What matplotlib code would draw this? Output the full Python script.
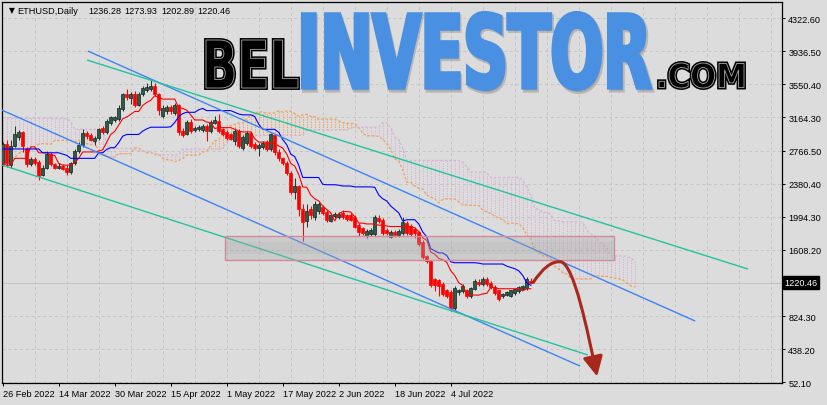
import numpy as np
import pandas as pd
import matplotlib
matplotlib.use("Agg")
import matplotlib.pyplot as plt
import matplotlib.transforms as mtransforms
from matplotlib.patches import Rectangle, PathPatch, FancyArrowPatch
from matplotlib.path import Path
from matplotlib.textpath import TextPath
from matplotlib.font_manager import FontProperties
from matplotlib.transforms import Affine2D

# --- ETHUSD daily candles, bar 0 = 26 Feb 2022 ---
opens = [2620, 2850, 2600, 2830, 2930, 2990, 2790, 2610, 2670, 2640,
         2490, 2570, 2730, 2610, 2570, 2590, 2570, 2520, 2620, 2770,
         2840, 2980, 2950, 2880, 2920, 3030, 2990, 3100, 3130, 3140,
         3260, 3430, 3390, 3440, 3300, 3440, 3480, 3490, 3530, 3430,
         3180, 3240, 3280, 3210, 3300, 3000, 2970, 3110, 3010, 3020,
         3010, 3060, 3000, 3100, 3120, 3020, 2990, 2960, 2880, 3000,
         2800, 2860, 2980, 2850, 2800, 2810, 2870, 2790, 2950, 2760,
         2680, 2630, 2510, 2290, 2350, 2080, 1940, 2080, 1990, 2060,
         2110, 2050, 1950, 2000, 1990, 2040, 2010, 2020, 1990, 1900,
         1860, 1770, 1790, 1790, 1980, 1960, 1840, 1760, 1820, 1780,
         1800, 1920, 1890, 1850, 1810, 1700, 1530, 1470, 1260, 1250,
         1200, 1130, 1110, 920, 1110, 1120, 1130, 1060, 1150, 1230,
         1200, 1270, 1220, 1170, 1130, 1060, 1080, 1070, 1100, 1120,
         1150, 1160, 1236.28]
highs = [2870, 2900, 2900, 3060, 3010, 3000, 2810, 2700, 2690, 2660,
         2600, 2770, 2750, 2630, 2620, 2610, 2600, 2640, 2790, 2870,
         3020, 3000, 2980, 2940, 3040, 3060, 3140, 3180, 3180, 3300,
         3450, 3490, 3460, 3470, 3460, 3530, 3560, 3600, 3560, 3450,
         3300, 3300, 3300, 3330, 3320, 3040, 3130, 3140, 3060, 3070,
         3080, 3080, 3130, 3180, 3200, 3040, 3010, 2980, 3030, 3020,
         2950, 3000, 3000, 2870, 2860, 2880, 2890, 2980, 2970, 2790,
         2700, 2650, 2530, 2450, 2370, 2140, 2140, 2120, 2180, 2170,
         2130, 2070, 2040, 2050, 2050, 2070, 2030, 2040, 2010, 1920,
         1880, 1850, 1860, 2020, 2010, 1980, 1860, 1840, 1840, 1850,
         1990, 1940, 1910, 1880, 1830, 1720, 1550, 1490, 1280, 1270,
         1230, 1150, 1130, 1180, 1150, 1200, 1150, 1170, 1260, 1260,
         1290, 1290, 1240, 1190, 1140, 1100, 1120, 1140, 1160, 1180,
         1190, 1290, 1273.93]
lows = [2590, 2580, 2570, 2810, 2900, 2750, 2580, 2590, 2600, 2430,
        2470, 2550, 2590, 2550, 2550, 2540, 2490, 2500, 2600, 2740,
        2810, 2910, 2880, 2840, 2900, 2970, 2970, 3070, 3110, 3120,
        3230, 3370, 3320, 3280, 3290, 3410, 3460, 3470, 3410, 3190,
        3150, 3200, 3200, 3190, 2950, 2930, 2950, 2980, 2990, 3000,
        2990, 2880, 2980, 3080, 2980, 2940, 2900, 2890, 2840, 2800,
        2780, 2840, 2800, 2780, 2710, 2790, 2770, 2770, 2720, 2650,
        2600, 2480, 2260, 2200, 2000, 1710, 1880, 1970, 1960, 2030,
        2020, 1930, 1930, 1980, 1970, 1970, 1950, 1940, 1860, 1770,
        1780, 1750, 1770, 1770, 1920, 1780, 1780, 1740, 1760, 1760,
        1780, 1780, 1770, 1740, 1650, 1500, 1450, 1170, 1120, 1070,
        1070, 1040, 890, 900, 1080, 1100, 1040, 1040, 1130, 1180,
        1180, 1180, 1150, 1080, 1010, 1040, 1060, 1050, 1080, 1100,
        1130, 1140, 1202.89]
closes = [2850, 2620, 2830, 2960, 2990, 2820, 2610, 2670, 2620, 2470,
          2570, 2730, 2610, 2570, 2590, 2560, 2520, 2620, 2770, 2840,
          2980, 2940, 2900, 2920, 3020, 2990, 3120, 3160, 3160, 3270,
          3430, 3400, 3440, 3300, 3440, 3500, 3520, 3530, 3430, 3250,
          3270, 3280, 3230, 3310, 2990, 2950, 3110, 3000, 3040, 3050,
          3060, 3000, 3110, 3130, 3000, 2960, 2920, 2910, 3000, 2820,
          2930, 2980, 2820, 2800, 2840, 2860, 2790, 2960, 2750, 2680,
          2630, 2510, 2290, 2350, 2080, 1930, 2060, 2020, 2150, 2140,
          2040, 1960, 2020, 2030, 2030, 1990, 1970, 1960, 1880, 1820,
          1800, 1830, 1840, 1990, 1940, 1800, 1800, 1820, 1780, 1830,
          1930, 1800, 1790, 1800, 1670, 1520, 1470, 1190, 1190, 1180,
          1090, 1060, 920, 1160, 1130, 1180, 1060, 1160, 1240, 1200,
          1270, 1200, 1170, 1100, 1030, 1090, 1110, 1130, 1150, 1170,
          1180, 1260, 1220.46]

# earlier daily highs / lows (11 Dec 2021 - 25 Feb 2022), only used to warm up Ichimoku
hist_highs = [4100, 4150, 4120, 3900, 4100, 4100, 4000, 4000, 4000, 3950,
              4050, 4060, 4140, 4120, 4130, 4090, 4130, 4060, 3830, 3770,
              3800, 3770, 3850, 3850, 3880, 3850, 3560, 3420, 3240, 3210,
              3160, 3260, 3410, 3430, 3330, 3370, 3370, 3360, 3220, 3210,
              3270, 3010, 2640, 2560, 2500, 2520, 2720, 2540, 2560, 2620,
              2640, 2710, 2810, 2790, 2710, 3000, 3060, 3070, 3190, 3190,
              3260, 3280, 3130, 2970, 2950, 2960, 3190, 3160, 3130, 2940,
              2800, 2790, 2770, 2650, 2740, 2720, 2800]
hist_lows = [3900, 4000, 3700, 3700, 3650, 3950, 3830, 3850, 3900, 3800,
             3900, 3950, 3950, 4000, 4000, 4000, 4000, 3770, 3600, 3600,
             3620, 3680, 3720, 3710, 3730, 3400, 3330, 3060, 3000, 3060,
             2930, 3050, 3220, 3230, 3200, 3280, 3290, 3160, 3080, 3040,
             2990, 2530, 2330, 2380, 2160, 2370, 2410, 2360, 2380, 2540,
             2520, 2480, 2680, 2640, 2600, 2660, 2990, 2970, 3040, 3020,
             3090, 3050, 2880, 2840, 2850, 2850, 2930, 3070, 2850, 2770,
             2740, 2580, 2580, 2510, 2580, 2300, 2570]

date_labels = ["26 Feb 2022", "14 Mar 2022", "30 Mar 2022", "15 Apr 2022", "1 May 2022",
               "17 May 2022", "2 Jun 2022", "18 Jun 2022", "4 Jul 2022"]
price_ticks = [4322.60, 3936.50, 3550.40, 3164.30, 2766.50, 2380.40, 1994.30,
               1608.20, 1220.46, 824.30, 438.20, 52.10]
last_price = 1220.46

# hand-drawn objects (bar index, price)
upper_blue = ([21.3, 173.1], [3939, 771])
upper_green = ([21.1, 186.3], [3833, 1381])
lower_blue = ([-0.5, 144.3], [3252, 243])
lower_green = ([-0.5, 146.3], [2606, 372])
zone_bars = (55.6, 152.8)
zone_prices = (1483, 1765)
arrow_bars = [132.6, 136.1, 139.3, 142.8, 146.3, 148.6]
arrow_prices = [1223, 1475, 1467, 1467, 619, 120]

W, H = 828, 406
BG = "#dcdcdc"
plt.rcParams["font.family"] = ["Liberation Sans", "DejaVu Sans"]
FS = 6.6

# --- Ichimoku (9, 26, 52) ---
hi = pd.Series(hist_highs + highs, dtype=float)
lo = pd.Series(hist_lows + lows, dtype=float)
tenkan = (hi.rolling(9).max() + lo.rolling(9).min()) / 2
kijun = (hi.rolling(26).max() + lo.rolling(26).min()) / 2
span_a = (tenkan + kijun) / 2
span_b = (hi.rolling(52).max() + lo.rolling(52).min()) / 2
n_hist = len(hist_highs)
bars = np.arange(len(closes))
cloud_x = np.arange(len(hi)) - n_hist + 26
keep = cloud_x >= -1
cloud_x = cloud_x[keep]
sa = span_a.values[keep]
sb = span_b.values[keep]

fig = plt.figure(figsize=(W / 100, H / 100), dpi=100, facecolor=BG)
ax = fig.add_axes([2.5 / W, 22 / H, 779.5 / W, 381.5 / H], facecolor=BG)
ax.set_xlim(-0.05, 194.8)
ax.set_ylim(44, 4520)

# grid
for p in price_ticks:
    ax.axhline(p, color="#c4c4c4", lw=0.7, ls=(0, (3, 3)), zorder=0)
for b in range(8, 195, 8):
    ax.axvline(b, color="#c4c4c4", lw=0.7, ls=(0, (3, 3)), zorder=0)
ax.axhline(last_price, color="#c0c0c0", lw=0.6, zorder=0)

# cloud hatching
up = sa >= sb
ax.vlines(cloud_x[up], sb[up], sa[up], color="#f2a05a", lw=0.75, ls=(0, (1.2, 1.2)), zorder=1)
ax.vlines(cloud_x[~up], sa[~up], sb[~up], color="#d6b4d6", lw=0.75, ls=(0, (1.2, 1.2)), zorder=1)
ax.plot(cloud_x, sa, color="#f2a05a", lw=0.9, ls=(0, (2, 1.5)), zorder=1)
ax.plot(cloud_x, sb, color="#d6b4d6", lw=0.9, ls=(0, (2, 1.5)), zorder=1)

# candles
o = np.array(opens); c = np.array(closes); h = np.array(highs); l = np.array(lows)
bull = c >= o
ax.vlines(bars[bull], l[bull], h[bull], color="#1f3b32", lw=0.75, zorder=3)
ax.vlines(bars[~bull], l[~bull], h[~bull], color="#ff0000", lw=0.75, zorder=3)
body = np.maximum(np.abs(c - o), 10)
ax.bar(bars[bull], body[bull], bottom=np.minimum(o, c)[bull], width=0.75,
       color="#2e5b4a", edgecolor="#12241d", lw=0.5, zorder=4)
ax.bar(bars[~bull], body[~bull], bottom=np.minimum(o, c)[~bull], width=0.75,
       color="#ff0000", edgecolor="#ff0000", lw=0.5, zorder=4)

# tenkan / kijun
ax.plot(bars, tenkan.values[n_hist:], color="#ff0000", lw=0.8, zorder=5)
ax.plot(bars, kijun.values[n_hist:], color="#0000ff", lw=0.8, zorder=5)

# channel lines
for (xs, ys), col in [(upper_blue, "#3d84f5"), (lower_blue, "#3d84f5"),
                      (upper_green, "#22c3a0"), (lower_green, "#22c3a0")]:
    ax.plot(xs, ys, color=col, lw=1.0, zorder=6, solid_capstyle="butt")

# support zone
zw = zone_bars[1] - zone_bars[0]
zh = zone_prices[1] - zone_prices[0]
ax.add_patch(Rectangle((zone_bars[0], zone_prices[0]), zw, zh,
                       facecolor=(0.66, 0.66, 0.66, 0.32), edgecolor="#d48a9a", lw=1.0, zorder=7))
ax.add_patch(Rectangle((zone_bars[0], zone_prices[0] + zh * 0.25), zw, zh * 0.5,
                       facecolor=(0.6, 0.6, 0.6, 0.1), edgecolor="none", zorder=7))

# forecast arrow
arrow_path = Path(list(zip(arrow_bars, arrow_prices)),
                  [Path.MOVETO, Path.CURVE3, Path.CURVE3, Path.CURVE4, Path.CURVE4, Path.CURVE4])
ax.add_patch(FancyArrowPatch(path=arrow_path, arrowstyle="-|>,head_length=0.8,head_width=0.4",
                             mutation_scale=15, color="#a8281c", lw=2.2, zorder=8))

# axes styling
for s in ax.spines.values():
    s.set_color("black")
    s.set_linewidth(0.9)
ax.yaxis.tick_right()
ax.set_yticks(price_ticks)
ax.set_yticklabels([f"{p:.2f}" if p != last_price else "" for p in price_ticks], fontsize=FS)
ax.tick_params(axis="y", length=2.5, width=0.7, pad=2, colors="black")
ax.set_xticks(range(0, 14 * len(date_labels), 14))
ax.set_xticklabels(date_labels, fontsize=FS, ha="left")
ax.tick_params(axis="x", length=2.5, width=0.7, pad=2)
trans = mtransforms.blended_transform_factory(ax.transAxes, ax.transData)
ax.text(1.003, last_price, f"{last_price:.2f}", transform=trans, fontsize=FS, color="white",
        va="center", ha="left",
        bbox=dict(boxstyle="square,pad=0.2", facecolor="black", edgecolor="black"))

# header
fig.text(9 / W, 1 - 11 / H, "▼", fontsize=5.5, va="center", family=["DejaVu Sans"])
fig.text(17 / W, 1 - 11 / H, "ETHUSD,Daily", fontsize=FS, va="center")
for xp, txt in zip([88, 124, 161, 197], ["1236.28", "1273.93", "1202.89", "1220.46"]):
    fig.text(xp / W, 1 - 11 / H, txt, fontsize=FS, va="center")


# logo
def logo_word(text, box, **kw):
    x0, y0, x1, y1 = box
    tp = TextPath((0, 0), text, size=100, prop=FontProperties(family="DejaVu Sans", weight="bold"))
    ext = tp.get_extents()
    tr = (Affine2D().translate(-ext.x0, -ext.y0)
          .scale((x1 - x0) / ext.width / W, (y1 - y0) / ext.height / H)
          .translate(x0 / W, 1 - y1 / H) + fig.transFigure)
    fig.add_artist(PathPatch(tp, transform=tr, **kw))


logo_word("INVESTOR", (304, 16, 652, 93), facecolor="#8a8a8a", edgecolor="#8a8a8a",
          lw=3, alpha=0.45, zorder=20)
logo_word("INVESTOR", (303, 14, 650, 90), facecolor="#4a90e2", edgecolor="#4a90e2",
          lw=3, joinstyle="miter", zorder=21)
for word, box in [("BEL", (206, 41, 298, 89)), (".COM", (659, 64, 744, 89))]:
    logo_word(word, box, facecolor="black", edgecolor="black", lw=2.8, zorder=21)
    logo_word(word, box, facecolor="black", edgecolor="#a8a8a8", lw=0.6, zorder=22)

fig.savefig("out.png", dpi=100, facecolor=BG)
